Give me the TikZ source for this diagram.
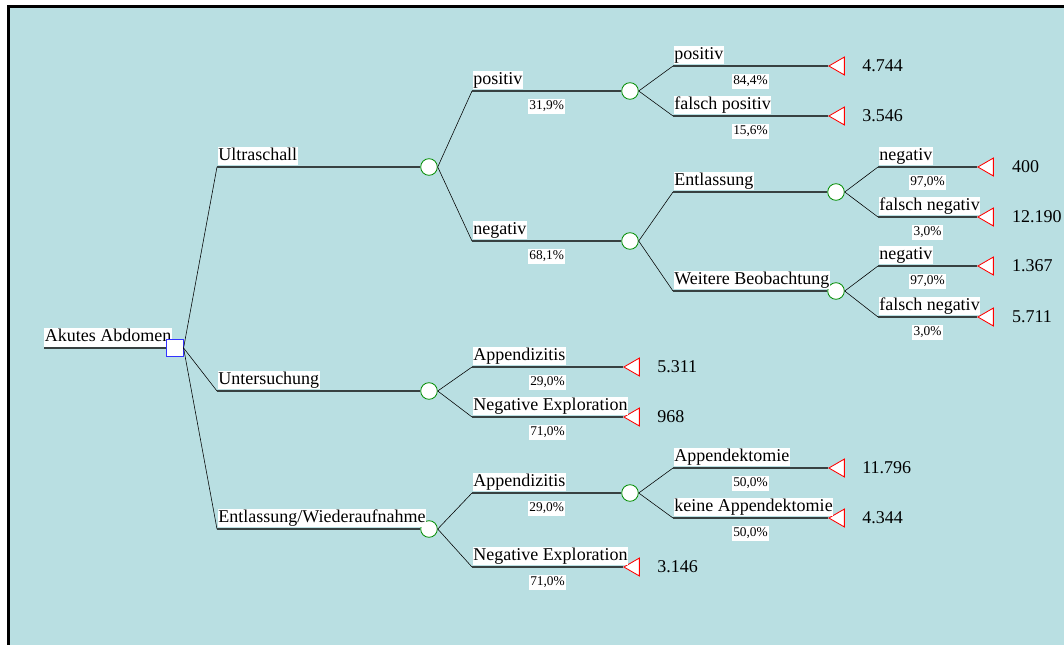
\documentclass[tikz,border=0pt]{standalone}
\usepackage{fontspec}
\setmainfont{Liberation Serif}
\usetikzlibrary{positioning,shapes.geometric}
\definecolor{treebg}{RGB}{185,223,226}
\definecolor{chancegreen}{RGB}{0,140,0}
\definecolor{branchgray}{RGB}{55,65,65}

\begin{document}
\begin{tikzpicture}[x=0.025cm, y=-0.025cm,
    font=\fontsize{12.8}{14}\selectfont,
    decision/.style={draw=blue!80, fill=white, line width=0.7pt, minimum size=11.5pt, inner sep=0pt},
    chance/.style={circle, draw=chancegreen, fill=white, line width=0.6pt, minimum size=11.8pt, inner sep=0pt},
    terminal/.style={regular polygon, regular polygon sides=3, shape border rotate=90, draw=red, fill=white, line width=0.6pt, minimum size=14.7pt, inner sep=0pt, anchor=corner 1},
    lab/.style={anchor=south west, fill=white, inner xsep=0.5pt, inner ysep=0.8pt, text height=9.2pt, text depth=2.6pt, yshift=0.7pt},
    prob/.style={anchor=north, fill=white, inner xsep=1pt, inner ysep=1pt, text height=6.8pt, text depth=1.8pt, font=\fontsize{9.5}{11}\selectfont, yshift=-5pt},
    branch/.style={line width=0.8pt, draw=branchgray}]
        \useasboundingbox (0,0) rectangle (1064,645);
        \fill[treebg] (8.5,6.5) rectangle (1064,645);
        \draw[line width=1.6pt] (1064,6.5) -- (8.5,6.5) -- (8.5,645);

        \coordinate (0a) at (44,348);
        \node[lab] (root) at (0a) {Akutes Abdomen};
        \node[decision] (0) at (175,348) {};
        \node[chance] (1) at (429,167) {};
        \node[chance] (2) at (429,391) {};
        \node[chance] (3) at (429,529) {};
        \node[chance] (11) at (630,91) {};
        \node[chance] (12) at (630,241) {};
        \node[terminal] (21) at (623,367) {};
        \node[terminal] (22) at (623,417) {};
        \node[chance] (31) at (630,493) {};
        \node[terminal] (32) at (623,567) {};
        \node[terminal] (111) at (828,66) {};
        \node[terminal] (112) at (828,116) {};
        \node[chance] (121) at (836,192) {};
        \node[chance] (122) at (836,291) {};
        \node[terminal] (311) at (828,468) {};
        \node[terminal] (312) at (828,518) {};
        \node[terminal] (1211) at (977,167) {};
        \node[terminal] (1212) at (977,217) {};
        \node[terminal] (1221) at (977,266) {};
        \node[terminal] (1222) at (977,317) {};

        \node[right=9pt of 111] (v111) {4.744};
        \node[right=9pt of 112] (v112) {3.546};
        \node[right=9.5pt of 1211] (v1211) {400};
        \node[right=9.5pt of 1212] (v1212) {12.190};
        \node[right=9.5pt of 1221] (v1221) {1.367};
        \node[right=9.5pt of 1222] (v1222) {5.711};
        \node[right=9pt of 21] (v21) {5.311};
        \node[right=9pt of 22] (v22) {968};
        \node[right=9pt of 32] (v32) {3.146};
        \node[right=9pt of 311] (v311) {11.796};
        \node[right=9pt of 312] (v312) {4.344};

        \coordinate (1a) at (217,167);
        \coordinate (2a) at (217,391);
        \coordinate (3a) at (217,529);
        \coordinate (11a) at (472,91);
        \coordinate (12a) at (472,241);
        \coordinate (21a) at (472,367);
        \coordinate (22a) at (472,417);
        \coordinate (31a) at (472,493);
        \coordinate (32a) at (472,567);
        \coordinate (111a) at (673,66);
        \coordinate (112a) at (673,116);
        \coordinate (121a) at (673,192);
        \coordinate (122a) at (673,291);
        \coordinate (311a) at (673,468);
        \coordinate (312a) at (673,518);
        \coordinate (1211a) at (878,167);
        \coordinate (1212a) at (878,217);
        \coordinate (1221a) at (878,266);
        \coordinate (1222a) at (878,317);

        \draw[branch] (0a) -- (0.west);

        \draw (0.east) -- (1a);
        \draw[branch] (1a) node[lab] {Ultraschall} -- (1.west);
        \draw (0.east) -- (2a);
        \draw[branch] (2a) node[lab] {Untersuchung} -- (2.west);
        \draw (0.east) -- (3a);
        \draw[branch] (3a) node[lab] {Entlassung/Wiederaufnahme} -- (3.west);

        \draw (1.east) -- (11a);
        \draw[branch] (11a) node[lab] {positiv} -- node[prob] {31,9\%} (11.west);
        \draw (1.east) -- (12a);
        \draw[branch] (12a) node[lab] {negativ} -- node[prob] {68,1\%} (12.west);

        \draw (11.east) -- (111a);
        \draw[branch] (111a) node[lab] {positiv} -- node[prob] {84,4\%} (111.corner 1);
        \draw (11.east) -- (112a);
        \draw[branch] (112a) node[lab] {falsch positiv} -- node[prob] {15,6\%} (112.corner 1);

        \draw (12.east) -- (121a);
        \draw[branch] (121a) node[lab] {Entlassung} -- (121.west);
        \draw (12.east) -- (122a);
        \draw[branch] (122a) node[lab] {Weitere Beobachtung} -- (122.west);

        \draw (121.east) -- (1211a);
        \draw[branch] (1211a) node[lab] {negativ} -- node[prob] {97,0\%} (1211.corner 1);
        \draw (121.east) -- (1212a);
        \draw[branch] (1212a) node[lab] {falsch negativ} -- node[prob] {3,0\%} (1212.corner 1);
        \draw (122.east) -- (1221a);
        \draw[branch] (1221a) node[lab] {negativ} -- node[prob] {97,0\%} (1221.corner 1);
        \draw (122.east) -- (1222a);
        \draw[branch] (1222a) node[lab] {falsch negativ} -- node[prob] {3,0\%} (1222.corner 1);

        \draw (2.east) -- (21a);
        \draw[branch] (21a) node[lab] {Appendizitis} -- node[prob] {29,0\%} (21.corner 1);
        \draw (2.east) -- (22a);
        \draw[branch] (22a) node[lab] {Negative Exploration} -- node[prob] {71,0\%} (22.corner 1);

        \draw (3.east) -- (31a);
        \draw[branch] (31a) node[lab] {Appendizitis} -- node[prob] {29,0\%} (31.west);
        \draw (3.east) -- (32a);
        \draw[branch] (32a) node[lab] {Negative Exploration} -- node[prob] {71,0\%} (32.corner 1);

        \draw (31.east) -- (311a);
        \draw[branch] (311a) node[lab] {Appendektomie} -- node[prob] {50,0\%} (311.corner 1);
        \draw (31.east) -- (312a);
        \draw[branch] (312a) node[lab] {keine Appendektomie} -- node[prob] {50,0\%} (312.corner 1);
      \end{tikzpicture}
\end{document}
